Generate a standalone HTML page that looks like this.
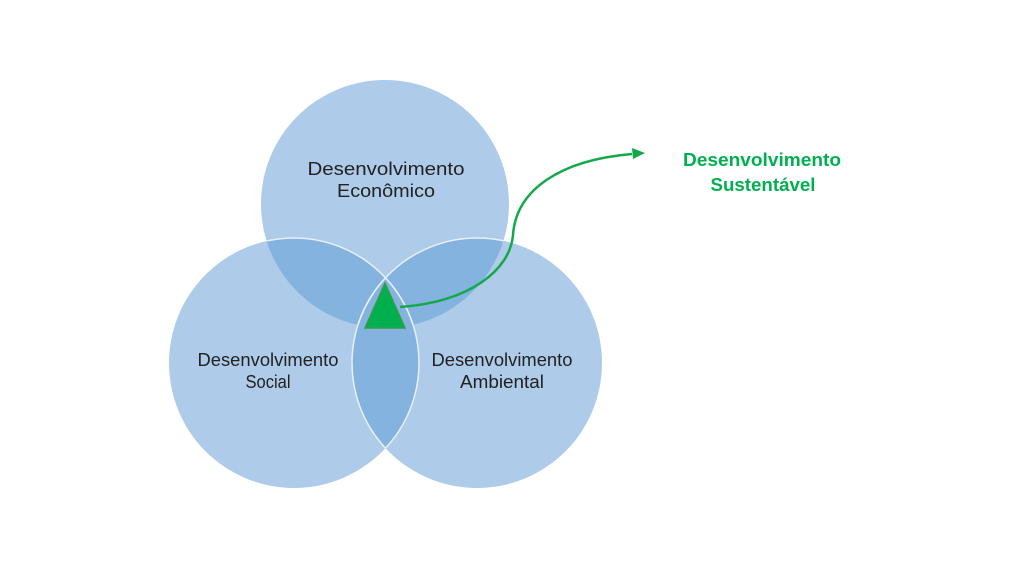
<!DOCTYPE html>
<html><head><style>
body{margin:0;background:#fff;}
svg{display:block}
</style></head><body>
<svg width="1024" height="576" viewBox="0 0 1024 576" xmlns="http://www.w3.org/2000/svg">
<defs>
<clipPath id="cT"><circle cx="385" cy="204" r="124"/></clipPath>
<clipPath id="cL"><circle cx="294" cy="363" r="125"/></clipPath>
<clipPath id="cR"><circle cx="477" cy="363" r="125"/></clipPath>
</defs>
<g fill="#aecbe9">
<circle cx="385" cy="204" r="124"/>
<circle cx="294" cy="363" r="125"/>
<circle cx="477" cy="363" r="125"/>
</g>
<g fill="#85b3df">
<circle cx="294" cy="363" r="125" clip-path="url(#cT)"/>
<circle cx="477" cy="363" r="125" clip-path="url(#cT)"/>
<circle cx="477" cy="363" r="125" clip-path="url(#cL)"/>
</g>
<g fill="none" stroke="#e8f0f8" stroke-width="1.5">
<circle cx="294" cy="363" r="125" clip-path="url(#cT)"/>
<circle cx="477" cy="363" r="125" clip-path="url(#cT)"/>
<circle cx="477" cy="363" r="125" clip-path="url(#cL)"/>
<circle cx="294" cy="363" r="125" clip-path="url(#cR)"/>
</g>
<polygon points="385,283 365,328 405,328" fill="#00b04f" stroke="#3a9a48" stroke-width="1.5"/>
<path d="M400,307 C470,302 510,270 513,235 C516,190 560,160 632,154" fill="none" stroke="#14a84a" stroke-width="2.5"/>
<polygon points="645,153 632,148 633,159" fill="#14a84a"/>
<g font-family="Liberation Sans, sans-serif" font-size="18" fill="#222" text-anchor="middle">
<text x="386" y="175" textLength="157" lengthAdjust="spacingAndGlyphs">Desenvolvimento</text>
<text x="386" y="197" textLength="98" lengthAdjust="spacingAndGlyphs">Econômico</text>
<text x="268" y="366" textLength="141" lengthAdjust="spacingAndGlyphs">Desenvolvimento</text>
<text x="268" y="388" textLength="45" lengthAdjust="spacingAndGlyphs">Social</text>
<text x="502" y="366" textLength="141" lengthAdjust="spacingAndGlyphs">Desenvolvimento</text>
<text x="502" y="388" textLength="84" lengthAdjust="spacingAndGlyphs">Ambiental</text>
</g>
<g font-family="Liberation Sans, sans-serif" font-size="18" font-weight="bold" fill="#00b050" text-anchor="middle">
<text x="762" y="166" textLength="158" lengthAdjust="spacingAndGlyphs">Desenvolvimento</text>
<text x="763" y="191" textLength="105" lengthAdjust="spacingAndGlyphs">Sustentável</text>
</g>
</svg>
</body></html>
